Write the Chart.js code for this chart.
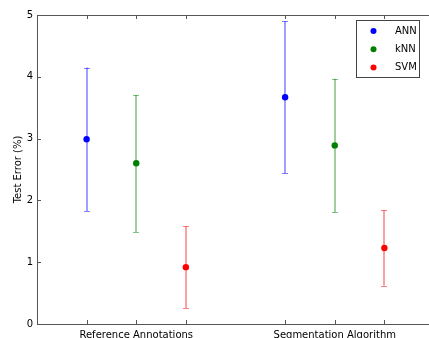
<!DOCTYPE html>
<html>
<head>
<meta charset="utf-8">
<script src="https://cdn.jsdelivr.net/npm/chart.js@4.4.1/dist/chart.umd.min.js"></script>
<style>
  html, body { margin: 0; padding: 0; overflow: hidden; background: #fff; width: 429px; height: 338px; }
  #wrap { position: absolute; left: 0; top: 0; width: 440px; height: 348px; }
</style>
</head>
<body>
<div id="wrap"><canvas id="c" width="440" height="348"></canvas></div>
<script>
// ---- data ----
const categories = ['Reference Annotations', 'Segmentation Algorithm'];
const categoryPositions = [2, 6];
const tickPositions = [1, 2, 3, 5, 6, 7];
const methods = ['ANN', 'kNN', 'SVM'];
const annX = [1, 5];
const knnX = [2, 6];
const svmX = [3, 7];
const annMean = [2.99, 3.67];
const annErr = [1.16, 1.23];
const knnMean = [2.60, 2.89];
const knnErr = [1.11, 1.08];
const svmMean = [0.92, 1.23];
const svmErr = [0.66, 0.61];
const yTicks = [0, 1, 2, 3, 4, 5];

const pointColors = ['#0000ff', '#007f00', '#ff0000'];
const barColors = ['rgba(0,0,255,0.5)', 'rgba(0,128,0,0.5)', 'rgba(255,0,0,0.5)'];
const FONT = 'DejaVu Sans';
const FS = 10;

const xs = [annX, knnX, svmX];
const means = [annMean, knnMean, svmMean];
const errs = [annErr, knnErr, svmErr];

const datasets = methods.map((m, i) => ({
  label: m,
  data: xs[i].map((x, j) => ({ x: x, y: means[i][j] })),
  errors: errs[i],
  backgroundColor: pointColors[i],
  borderColor: pointColors[i],
  pointRadius: 3.2,
  pointHoverRadius: 3.2,
  borderWidth: 0,
  showLine: false
}));

const errorBarPlugin = {
  id: 'errorBars',
  beforeDatasetsDraw(chart) {
    const ctx = chart.ctx;
    const xS = chart.scales.x, yS = chart.scales.y;
    const ca = chart.chartArea;
    ctx.save();
    // frame
    ctx.strokeStyle = '#555';
    ctx.lineWidth = 1;
    ctx.strokeRect(Math.round(ca.left) + 0.5, Math.round(ca.top) + 0.5,
                   Math.round(ca.right - ca.left), Math.round(ca.bottom - ca.top));
    // tick marks (inward)
    ctx.beginPath();
    tickPositions.forEach(v => {
      const px = Math.round(xS.getPixelForValue(v)) + 0.5;
      ctx.moveTo(px, ca.bottom); ctx.lineTo(px, ca.bottom - 4);
      ctx.moveTo(px, ca.top); ctx.lineTo(px, ca.top + 4);
    });
    yTicks.forEach(v => {
      const py = Math.round(yS.getPixelForValue(v)) + 0.5;
      ctx.moveTo(ca.left, py); ctx.lineTo(ca.left + 4, py);
      ctx.moveTo(ca.right, py); ctx.lineTo(ca.right - 4, py);
    });
    ctx.stroke();
    // error bars
    chart.data.datasets.forEach((ds, i) => {
      ctx.strokeStyle = barColors[i];
      ds.data.forEach((p, j) => {
        const e = ds.errors[j];
        const px = Math.round(xS.getPixelForValue(p.x));
        const top = yS.getPixelForValue(p.y + e);
        const bot = yS.getPixelForValue(p.y - e);
        ctx.lineWidth = 1.5;
        ctx.beginPath();
        ctx.moveTo(px, top); ctx.lineTo(px, bot);
        ctx.stroke();
        ctx.lineWidth = 1;
        ctx.beginPath();
        ctx.moveTo(px - 3, Math.round(top) + 0.5); ctx.lineTo(px + 3, Math.round(top) + 0.5);
        ctx.moveTo(px - 3, Math.round(bot) + 0.5); ctx.lineTo(px + 3, Math.round(bot) + 0.5);
        ctx.stroke();
      });
    });
    ctx.restore();
  },
  afterDraw(chart) {
    const ctx = chart.ctx;
    const ca = chart.chartArea;
    const bx = 356, by = ca.top + 5, bw = 63, bh = 57;
    ctx.save();
    ctx.fillStyle = '#fff';
    ctx.fillRect(bx, by, bw, bh);
    ctx.strokeStyle = '#444';
    ctx.lineWidth = 1;
    ctx.strokeRect(bx + 0.5, by + 0.5, bw, bh);
    ctx.font = FS + 'px "' + FONT + '"';
    ctx.textBaseline = 'middle';
    ctx.textAlign = 'left';
    chart.data.datasets.forEach((ds, i) => {
      const y = by + 11 + i * 18.3;
      ctx.fillStyle = pointColors[i];
      ctx.beginPath();
      ctx.arc(bx + 17.5, y, 3, 0, Math.PI * 2);
      ctx.fill();
      ctx.fillStyle = '#000';
      ctx.fillText(ds.label, bx + 39, y);
    });
    ctx.restore();
  }
};

new Chart(document.getElementById('c'), {
  type: 'scatter',
  data: { datasets: datasets },
  options: {
    responsive: false,
    animation: false,
    devicePixelRatio: 1,
    layout: { padding: { top: 15, right: 6, left: 0, bottom: 0 } },
    plugins: { legend: { display: false }, tooltip: { enabled: false } },
    scales: {
      x: {
        type: 'linear',
        min: 0, max: 8,
        grid: { display: false, drawTicks: false },
        border: { display: false },
        afterBuildTicks: (s) => { s.ticks = categoryPositions.map(v => ({ value: v })); },
        afterFit: (s) => { s.height = 24; },
        ticks: {
          autoSkip: false, maxRotation: 0, padding: 5,
          color: '#000',
          font: { family: FONT, size: FS },
          callback: (v) => categories[categoryPositions.indexOf(v)]
        }
      },
      y: {
        min: 0, max: 5,
        grid: { display: false, drawTicks: false },
        border: { display: false },
        afterBuildTicks: (s) => { s.ticks = yTicks.map(v => ({ value: v })); },
        afterFit: (s) => { s.width = 37; },
        title: {
          display: true, text: 'Test Error (%)', color: '#000',
          font: { family: FONT, size: FS }, padding: { top: 12, bottom: 0 }
        },
        ticks: {
          padding: 4, color: '#000',
          font: { family: FONT, size: FS },
          callback: (v) => String(v)
        }
      }
    }
  },
  plugins: [errorBarPlugin]
});
</script>
</body>
</html>
